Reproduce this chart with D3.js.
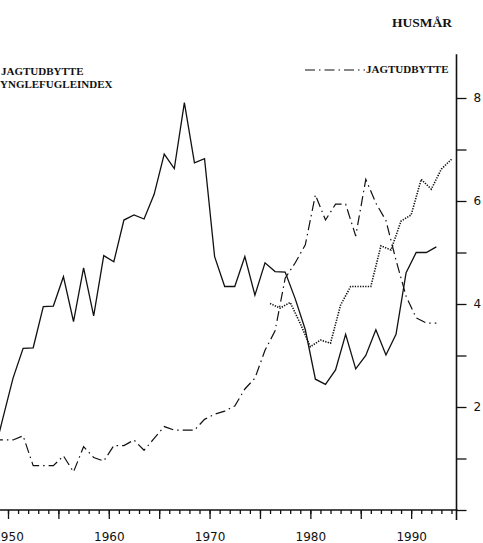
<!doctype HTML>
<html>
<head>
    <meta charset="utf-8">
    <script src="https://d3js.org/d3.v7.min.js"></script>
    <style>
        body { margin: 0; background: #fff; }
        .tick text { font-family: "DejaVu Sans", sans-serif; font-size: 12px; fill: #111; }
        .tick line { stroke: #111; stroke-width: 1.3; }
        .label { font-family: "Liberation Serif", "Times New Roman", serif; font-weight: bold; fill: #111; }
    </style>
</head>
<body>
<script>
    var canvasWidth = 483;
    var canvasHeight = 543;

    // years (points of the two long series sit in the middle of each year)
    var years = [1948, 1949, 1950, 1951, 1952, 1953, 1954, 1955, 1956, 1957, 1958, 1959,
        1960, 1961, 1962, 1963, 1964, 1965, 1966, 1967, 1968, 1969,
        1970, 1971, 1972, 1973, 1974, 1975, 1976, 1977, 1978, 1979,
        1980, 1981, 1982, 1983, 1984, 1985, 1986, 1987, 1988, 1989,
        1990, 1991, 1992];

    // solid line (jagtudbytte, left panel legend)
    var solidValues = [1.0, 1.79, 2.56, 3.14, 3.15, 3.95, 3.96, 4.53, 3.66, 4.70, 3.77, 4.94,
        4.82, 5.63, 5.73, 5.65, 6.13, 6.91, 6.63, 7.91, 6.74, 6.82,
        4.92, 4.34, 4.34, 4.92, 4.17, 4.80, 4.63, 4.62, 4.10, 3.50,
        2.54, 2.44, 2.72, 3.41, 2.74, 3.00, 3.50, 3.01, 3.41, 4.61,
        5.00, 5.00, 5.11];

    // dash-dot line: husmår jagtudbytte (right axis)
    var husmaarValues = [1.36, 1.36, 1.36, 1.44, 0.86, 0.86, 0.86, 1.05, 0.74, 1.23, 1.02, 0.95,
        1.25, 1.25, 1.36, 1.16, 1.39, 1.62, 1.55, 1.55, 1.55, 1.76,
        1.86, 1.92, 2.02, 2.35, 2.56, 3.10, 3.48, 4.50, 4.80, 5.15,
        6.12, 5.63, 5.94, 5.94, 5.32, 6.42, 5.96, 5.62, 4.85, 4.15,
        3.73, 3.63, 3.63];

    // dotted line: ynglefugleindex
    var indexYears = [1976, 1977, 1978, 1979, 1980, 1981, 1982, 1983, 1984, 1985,
        1986, 1987, 1988, 1989, 1990, 1991, 1992, 1993, 1994];
    var indexValues = [4.01, 3.92, 4.03, 3.62, 3.17, 3.30, 3.24, 3.98, 4.34, 4.34,
        4.34, 5.13, 5.05, 5.61, 5.73, 6.42, 6.23, 6.62, 6.81];

    var majorTicks = [1950, 1955, 1960, 1965, 1970, 1975, 1980, 1985, 1990];
    var minorTicks = d3.range(1949, 1995);
    var yTicks = [0, 1, 2, 3, 4, 5, 6, 7, 8];
    var yLabels = [2, 4, 6, 8];

    var svg = d3.select("body").append("svg")
        .attr("width", canvasWidth)
        .attr("height", canvasHeight);

    svg.append("rect")
        .attr("width", canvasWidth)
        .attr("height", canvasHeight)
        .attr("fill", "#fff");

    var xScale = d3.scaleLinear()
        .domain([1950, 1994.5])
        .range([8, 456.5]);
    var yScale = d3.scaleLinear()
        .domain([0, 8])
        .range([510, 98]);

    var axisY = yScale(0);
    var axisX = xScale(1994.5);

    //minor year ticks
    svg.append("g")
        .attr("transform", "translate(0," + axisY + ")")
        .call(d3.axisBottom(xScale).tickValues(minorTicks).tickSize(4).tickFormat(""))
        .select(".domain").remove();

    //major ticks with decade labels
    svg.append("g")
        .attr("transform", "translate(0," + axisY + ")")
        .call(d3.axisBottom(xScale).tickValues(majorTicks).tickSize(9).tickPadding(13.5)
            .tickFormat(function(d) { return d % 10 === 0 ? d : ""; }))
        .select(".domain").remove();

    //x axis line, runs out of the left edge
    svg.append("line")
        .attr("x1", 0).attr("x2", axisX + 1)
        .attr("y1", axisY).attr("y2", axisY)
        .attr("stroke", "#111").attr("stroke-width", 1.6);

    //right axis
    svg.append("g")
        .attr("transform", "translate(" + axisX + ",0)")
        .call(d3.axisRight(yScale).tickValues(yTicks).tickSize(10).tickPadding(7)
            .tickFormat(function(d) { return yLabels.indexOf(d) >= 0 ? d : ""; }))
        .select(".domain").remove();

    svg.append("line")
        .attr("x1", axisX).attr("x2", axisX)
        .attr("y1", yScale(8.85)).attr("y2", axisY + 10)
        .attr("stroke", "#111").attr("stroke-width", 1.6);

    var solidData = years.map(function(y, i) { return {year: y, value: solidValues[i]}; });
    var husmaarData = years.map(function(y, i) { return {year: y, value: husmaarValues[i]}; });
    var indexData = indexYears.map(function(y, i) { return {year: y, value: indexValues[i]}; });

    function lineFor(offset) {
        return d3.line()
            .x(function(d) { return xScale(d.year + offset); })
            .y(function(d) { return yScale(d.value); });
    }

    svg.append("path")
        .datum(solidData)
        .attr("d", lineFor(0.5))
        .attr("fill", "none")
        .attr("stroke", "#111")
        .attr("stroke-width", 1.3)
        .attr("stroke-linejoin", "miter");

    svg.append("path")
        .datum(husmaarData)
        .attr("d", lineFor(0.5))
        .attr("fill", "none")
        .attr("stroke", "#111")
        .attr("stroke-width", 1.2)
        .attr("stroke-dasharray", "10,4,1.5,4");

    svg.append("path")
        .datum(indexData)
        .attr("d", lineFor(0))
        .attr("fill", "none")
        .attr("stroke", "#111")
        .attr("stroke-width", 1.6)
        .attr("stroke-dasharray", "1.3,1.3");

    //title
    svg.append("text")
        .attr("class", "label")
        .attr("x", 392)
        .attr("y", 26.5)
        .attr("font-size", "13.5px")
        .text("HUSMÅR");

    //legend on the right
    svg.append("line")
        .attr("x1", 305).attr("x2", 365)
        .attr("y1", 70).attr("y2", 70)
        .attr("stroke", "#111")
        .attr("stroke-width", 1.2)
        .attr("stroke-dasharray", "10,4,1.5,4");
    svg.append("text")
        .attr("class", "label")
        .attr("x", 366)
        .attr("y", 73)
        .attr("font-size", "11px")
        .text("JAGTUDBYTTE");

    //legend of the left panel (cut off)
    svg.append("text")
        .attr("class", "label")
        .attr("x", 1)
        .attr("y", 75)
        .attr("font-size", "11px")
        .text("JAGTUDBYTTE");
    svg.append("text")
        .attr("class", "label")
        .attr("x", 0)
        .attr("y", 87.5)
        .attr("font-size", "11px")
        .text("YNGLEFUGLEINDEX");
</script>
</body>
</html>
